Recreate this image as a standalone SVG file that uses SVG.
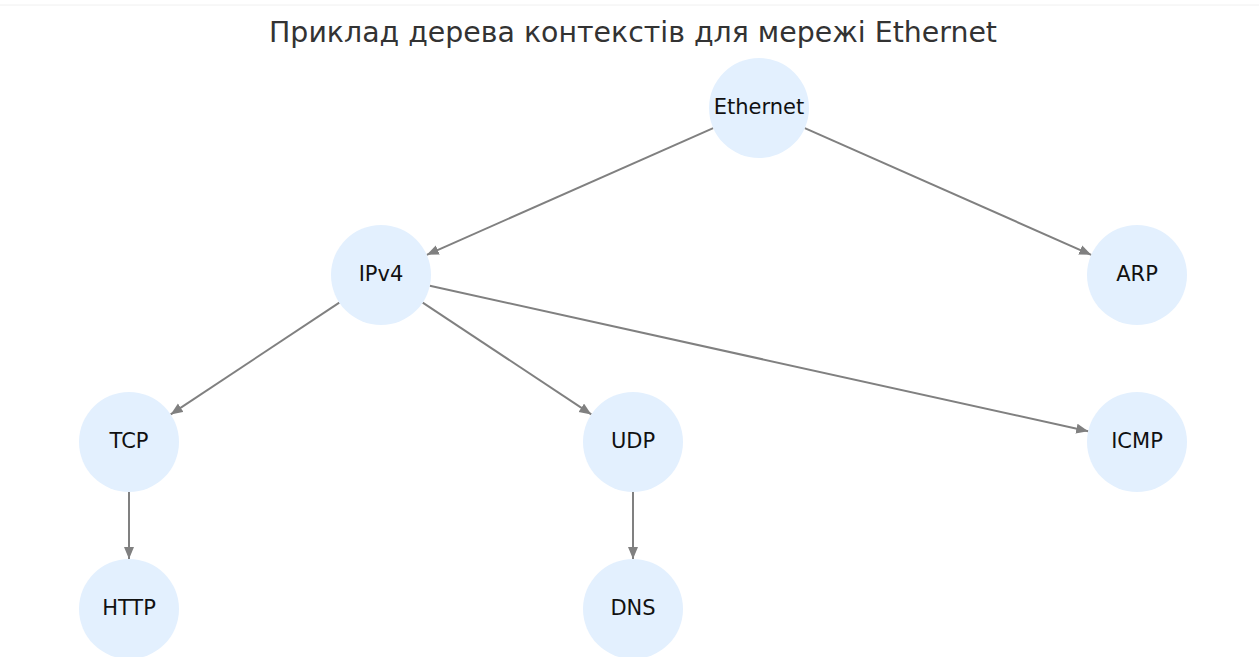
<svg xmlns="http://www.w3.org/2000/svg" width="1259" height="657" viewBox="0 0 1259 657">
<style>
.title{font-family:"DejaVu Sans",sans-serif;font-size:28.4px;fill:#333;text-anchor:middle}
.node circle{fill:#e3f0fe}
.node text{font-family:"DejaVu Sans",sans-serif;font-size:21px;fill:#111;text-anchor:middle;dominant-baseline:central}
.edge{stroke:#808080;stroke-width:2;fill:none;marker-end:url(#arr)}
</style>
<defs>
<marker id="arr" markerUnits="userSpaceOnUse" markerWidth="14" markerHeight="12" refX="12" refY="5" orient="auto">
<path d="M0,0 L12,5 L0,10 z" fill="#808080"/>
</marker>
</defs>
<rect width="1259" height="657" fill="#fff"/>
<line x1="0" y1="5" x2="1259" y2="5" stroke="#f0f0f0" stroke-width="1"/>
<text class="title" x="633" y="42">Приклад дерева контекстів для мережі Ethernet</text>
<g id="connectors">
<line class="edge" x1="713.2" y1="128.2" x2="426.8" y2="254.8"/>
<line class="edge" x1="804.8" y1="128.2" x2="1091.2" y2="254.8"/>
<line class="edge" x1="339.3" y1="302.6" x2="170.7" y2="414.4"/>
<line class="edge" x1="422.7" y1="302.6" x2="591.3" y2="414.4"/>
<line class="edge" x1="429.8" y1="285.8" x2="1088.2" y2="431.2"/>
<line class="edge" x1="129" y1="492" x2="129" y2="559"/>
<line class="edge" x1="633" y1="492" x2="633" y2="559"/>
</g>
<g id="n-ethernet" class="node"><circle cx="759" cy="108" r="50"/><text x="759" y="107">Ethernet</text></g>
<g id="n-ipv4" class="node"><circle cx="381" cy="275" r="50"/><text x="381" y="274">IPv4</text></g>
<g id="n-arp" class="node"><circle cx="1137" cy="275" r="50"/><text x="1137" y="274">ARP</text></g>
<g id="n-tcp" class="node"><circle cx="129" cy="442" r="50"/><text x="129" y="441">TCP</text></g>
<g id="n-udp" class="node"><circle cx="633" cy="442" r="50"/><text x="633" y="441">UDP</text></g>
<g id="n-icmp" class="node"><circle cx="1137" cy="442" r="50"/><text x="1137" y="441">ICMP</text></g>
<g id="n-http" class="node"><circle cx="129" cy="609" r="50"/><text x="129" y="608">HTTP</text></g>
<g id="n-dns" class="node"><circle cx="633" cy="609" r="50"/><text x="633" y="608">DNS</text></g>
</svg>
